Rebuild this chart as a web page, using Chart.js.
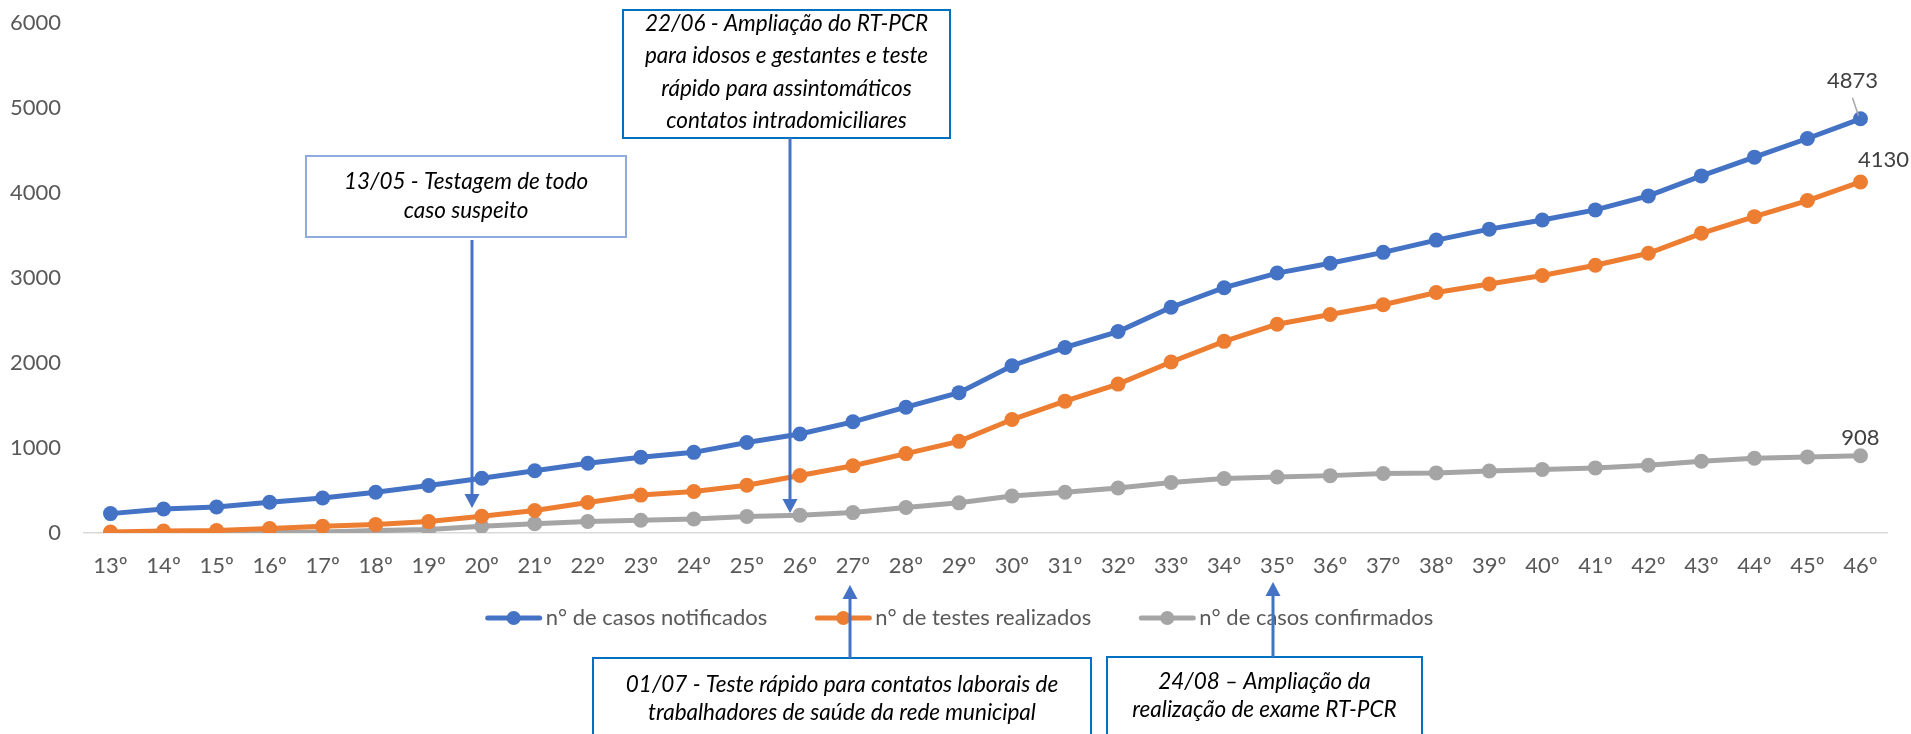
<!DOCTYPE html>
<html>
<head>
<meta charset="utf-8">
<script src="https://cdn.jsdelivr.net/npm/chart.js@4.4.1/dist/chart.umd.min.js"></script>
<style>
  html, body { margin: 0; padding: 0; background: #fff; }
  #wrap { width: 1911px; height: 734px; }
</style>
</head>
<body>
<div id="wrap"><canvas id="lineChart" width="1911" height="734"></canvas></div>
<script>
// semanas epidemiológicas
const weeks = ["13º","14º","15º","16º","17º","18º","19º","20º","21º","22º","23º","24º",
  "25º","26º","27º","28º","29º","30º","31º","32º","33º","34º","35º","36º","37º","38º",
  "39º","40º","41º","42º","43º","44º","45º","46º"];

const notificados = [228, 283, 306, 362, 412, 479, 558, 644, 733, 820, 892, 949,
  1064, 1164, 1308, 1480, 1651, 1968, 2183, 2370, 2656, 2886, 3058, 3173, 3302, 3446,
  3575, 3683, 3801, 3966, 4201, 4422, 4641, 4873];

const testes = [12, 24, 30, 52, 79, 99, 134, 197, 265, 359, 446, 489,
  561, 676, 791, 934, 1078, 1335, 1551, 1752, 2011, 2255, 2456, 2571, 2686, 2830,
  2930, 3030, 3150, 3291, 3526, 3722, 3911, 4130];

const confirmados = [0, 0, 0, 5, 12, 28, 40, 79, 110, 135, 150, 165,
  195, 210, 240, 300, 355, 435, 480, 530, 595, 640, 658, 675, 700, 707,
  730, 747, 766, 797, 844, 880, 895, 908];

const yTicks = [0, 1000, 2000, 3000, 4000, 5000, 6000];
const seriesNames = ["n° de casos notificados", "n° de testes realizados", "n° de casos confirmados"];
const seriesColors = ["#4472C4", "#ED7D31", "#A5A5A5"];

// caixas de texto com setas (posições em pixels da figura)
const notes = [
  { lines: ["13/05 - Testagem de todo", "caso suspeito"],
    box: [306, 156, 626, 237], lineY: [182, 211], border: "#8FAADC", arrow: [472, 240, 508] },
  { lines: ["22/06 - Ampliação do RT-PCR", "para idosos e gestantes e teste", "rápido para assintomáticos", "contatos intradomiciliares"],
    box: [623, 10, 950, 138], lineY: [24, 56, 89, 121], border: "#0070C0", arrow: [790, 138, 513] },
  { lines: ["01/07 - Teste rápido para contatos laborais de", "trabalhadores de saúde da rede municipal"],
    box: [593, 658, 1091, 760], lineY: [685, 713], border: "#0070C0", arrow: [850, 658, 585] },
  { lines: ["24/08 – Ampliação da", "realização de exame RT-PCR"],
    box: [1107, 657, 1422, 760], lineY: [682, 710], border: "#0070C0", arrow: [1273, 657, 582] }
];

const FONT = "Lato";
const FS = 22;

const extras = {
  id: "extras",
  afterDraw(chart) {
    const ctx = chart.ctx;
    ctx.save();

    // rótulos do último ponto
    const offs = [[-8, -38], [23, -22], [0, -18]];
    chart.data.datasets.forEach((ds, i) => {
      const meta = chart.getDatasetMeta(i);
      const pt = meta.data[meta.data.length - 1];
      const v = ds.data[ds.data.length - 1];
      ctx.font = FS + "px " + FONT;
      ctx.fillStyle = "#404040";
      ctx.textAlign = "center";
      ctx.textBaseline = "middle";
      ctx.fillText(String(v), pt.x + offs[i][0], pt.y + offs[i][1]);
      if (i === 0) {
        ctx.strokeStyle = "#A6A6A6";
        ctx.lineWidth = 1.5;
        ctx.beginPath();
        ctx.moveTo(pt.x - 8, pt.y - 21);
        ctx.lineTo(pt.x - 2, pt.y - 3);
        ctx.stroke();
      }
    });

    // legenda
    ctx.font = FS + "px " + FONT;
    const mark = 56, gapT = 4, gapI = 48, ly = 618;
    const widths = seriesNames.map(n => ctx.measureText(n).width);
    let total = widths.reduce((a, b) => a + b, 0) + 3 * (mark + gapT) + 2 * gapI;
    let x = chart.width / 2 + 4 - total / 2;
    seriesNames.forEach((n, i) => {
      ctx.strokeStyle = seriesColors[i];
      ctx.lineWidth = 5;
      ctx.lineCap = "round";
      ctx.beginPath();
      ctx.moveTo(x + 2, ly);
      ctx.lineTo(x + mark - 2, ly);
      ctx.stroke();
      ctx.fillStyle = seriesColors[i];
      ctx.beginPath();
      ctx.arc(x + mark / 2, ly, 7, 0, Math.PI * 2);
      ctx.fill();
      ctx.fillStyle = "#595959";
      ctx.textAlign = "left";
      ctx.textBaseline = "middle";
      ctx.fillText(n, x + mark + gapT, ly);
      x += mark + gapT + widths[i] + gapI;
    });
    ctx.lineCap = "butt";

    // caixas e setas
    notes.forEach(nt => {
      const [x1, y1, x2, y2] = nt.box;
      ctx.fillStyle = "#fff";
      ctx.fillRect(x1, y1, x2 - x1, y2 - y1);
      ctx.strokeStyle = nt.border;
      ctx.lineWidth = 2;
      ctx.strokeRect(x1, y1, x2 - x1, y2 - y1);
      ctx.fillStyle = "#000";
      ctx.font = "italic 22.5px " + FONT;
      ctx.textAlign = "center";
      ctx.textBaseline = "middle";
      nt.lines.forEach((t, k) => ctx.fillText(t, (x1 + x2) / 2, nt.lineY[k]));

      const [ax, ay0, ay1] = nt.arrow;
      const dir = ay1 > ay0 ? 1 : -1;
      const head = 14;
      ctx.strokeStyle = "#4472C4";
      ctx.fillStyle = "#4472C4";
      ctx.lineWidth = 3;
      ctx.beginPath();
      ctx.moveTo(ax, ay0);
      ctx.lineTo(ax, ay1 - dir * head);
      ctx.stroke();
      ctx.beginPath();
      ctx.moveTo(ax, ay1);
      ctx.lineTo(ax - 7.5, ay1 - dir * head);
      ctx.lineTo(ax + 7.5, ay1 - dir * head);
      ctx.closePath();
      ctx.fill();
    });
    ctx.restore();
  }
};

const mkSet = (label, data, color) => ({
  label, data,
  borderColor: color,
  backgroundColor: color,
  borderWidth: 5,
  pointRadius: 7.5,
  pointHoverRadius: 7.5,
  pointBorderWidth: 0,
  pointBackgroundColor: color,
  tension: 0
});

const ctx = document.getElementById("lineChart").getContext("2d");
new Chart(ctx, {
  type: "line",
  data: {
    labels: weeks,
    datasets: [
      mkSet(seriesNames[0], notificados, seriesColors[0]),
      mkSet(seriesNames[1], testes, seriesColors[1]),
      mkSet(seriesNames[2], confirmados, seriesColors[2])
    ]
  },
  options: {
    responsive: false,
    animation: false,
    layout: { padding: { top: 23, right: 24, left: 0, bottom: 0 } },
    plugins: { legend: { display: false }, tooltip: { enabled: false } },
    scales: {
      x: {
        offset: true,
        grid: { display: false, drawTicks: false },
        border: { display: true, color: "#D9D9D9", width: 1.5 },
        ticks: { color: "#595959", font: { family: FONT, size: FS }, padding: 20, autoSkip: false, maxRotation: 0 },
        afterFit: s => { s.height = 201; }
      },
      y: {
        min: 0, max: 6000,
        afterBuildTicks: s => { s.ticks = yTicks.map(v => ({ value: v })); },
        grid: { display: false, drawTicks: false },
        border: { display: false },
        ticks: { color: "#595959", font: { family: FONT, size: FS }, padding: 23, callback: v => String(v) },
        afterFit: s => { s.width = 84; s.paddingTop = 0; s.paddingBottom = 0; }
      }
    }
  },
  plugins: [extras]
});
</script>
</body>
</html>
